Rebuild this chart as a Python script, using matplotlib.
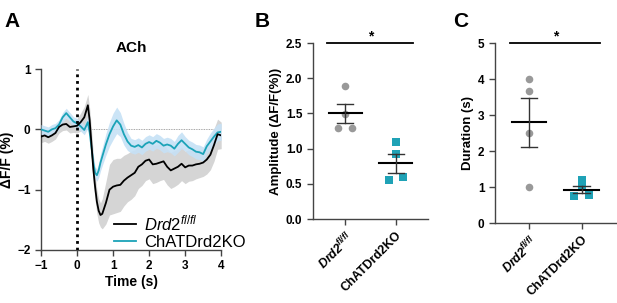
import numpy as np
import matplotlib.pyplot as plt

plt.rcParams['font.family'] = ['Liberation Sans', 'DejaVu Sans']
plt.rcParams['mathtext.fontset'] = 'custom'
plt.rcParams['mathtext.it'] = 'Liberation Sans:italic'
plt.rcParams['mathtext.bfit'] = 'Liberation Sans:italic:bold'
plt.rcParams['mathtext.rm'] = 'Liberation Sans'

# Panel A: photometry traces (time in s, dF/F in %)
time = [-1.0, -0.9, -0.8, -0.7, -0.6, -0.5, -0.4, -0.3, -0.2, -0.1, 0.0, 0.1, 0.2,
        0.3, 0.35, 0.4, 0.45, 0.5, 0.55, 0.6, 0.65, 0.7, 0.8, 0.9, 1.0, 1.1, 1.2,
        1.3, 1.4, 1.5, 1.6, 1.7, 1.8, 1.9, 2.0, 2.1, 2.2, 2.3, 2.4, 2.5, 2.6, 2.7,
        2.8, 2.9, 3.0, 3.1, 3.2, 3.3, 3.4, 3.5, 3.6, 3.7, 3.8, 3.9, 4.0]
ctrl_mean = [-0.12, -0.10, -0.13, -0.10, -0.06, 0.04, 0.08, 0.09, 0.04, 0.05, 0.06,
             0.12, 0.20, 0.40, 0.15, -0.25, -0.65, -0.95, -1.20, -1.35, -1.42, -1.40,
             -1.22, -1.00, -0.95, -0.93, -0.92, -0.85, -0.80, -0.76, -0.72, -0.62,
             -0.58, -0.52, -0.50, -0.58, -0.57, -0.55, -0.53, -0.62, -0.68, -0.65,
             -0.62, -0.57, -0.63, -0.60, -0.60, -0.58, -0.57, -0.55, -0.50, -0.42,
             -0.26, -0.08, -0.10]
ctrl_sem = [0.10, 0.10, 0.10, 0.10, 0.10, 0.10, 0.10, 0.10, 0.10, 0.10, 0.12,
            0.15, 0.18, 0.18, 0.20, 0.25, 0.25, 0.22, 0.20, 0.20, 0.20, 0.25,
            0.35, 0.42, 0.45, 0.45, 0.44, 0.42, 0.40, 0.40, 0.38, 0.36,
            0.35, 0.33, 0.32, 0.32, 0.31, 0.30, 0.30, 0.30, 0.30, 0.30,
            0.29, 0.28, 0.27, 0.26, 0.25, 0.24, 0.23, 0.23, 0.24, 0.25,
            0.27, 0.25, 0.22]
ko_mean = [0.00, -0.02, -0.04, 0.00, 0.02, 0.08, 0.20, 0.27, 0.20, 0.13, 0.10,
           0.05, -0.01, 0.12, -0.05, -0.30, -0.55, -0.72, -0.76, -0.68, -0.55, -0.45,
           -0.25, -0.08, 0.05, 0.15, 0.08, -0.08, -0.20, -0.27, -0.29, -0.26,
           -0.30, -0.24, -0.21, -0.24, -0.19, -0.22, -0.27, -0.25, -0.27, -0.32,
           -0.24, -0.18, -0.24, -0.30, -0.33, -0.37, -0.38, -0.41, -0.28, -0.20,
           -0.12, -0.05, -0.04]
ko_sem = [0.08, 0.08, 0.08, 0.08, 0.08, 0.08, 0.08, 0.08, 0.08, 0.08, 0.08,
          0.08, 0.08, 0.10, 0.10, 0.10, 0.10, 0.10, 0.10, 0.12, 0.14, 0.15,
          0.18, 0.20, 0.22, 0.22, 0.20, 0.18, 0.15, 0.12, 0.12, 0.12,
          0.12, 0.12, 0.12, 0.12, 0.12, 0.12, 0.12, 0.12, 0.12, 0.12,
          0.14, 0.14, 0.12, 0.12, 0.12, 0.12, 0.12, 0.12, 0.12, 0.14,
          0.14, 0.14, 0.14]

# Panel B/C: per-animal values
groups = ['$\\mathbfit{Drd2}^{\\mathbfit{fl/fl}}$', 'ChATDrd2KO']
legend_labels = ['$\\mathit{Drd2}^{\\mathit{fl/fl}}$', 'ChATDrd2KO']
amp_ctrl = [1.89, 1.49, 1.29, 1.29]
amp_ctrl_dx = [0.0, 0.0, -0.14, 0.14]
amp_ko = [1.09, 0.92, 0.55, 0.60]
amp_ko_dx = [0.0, 0.0, -0.14, 0.14]
amp_mean = [1.50, 0.79]
amp_sem = [0.14, 0.13]

dur_ctrl = [3.99, 3.68, 2.49, 1.0]
dur_ctrl_dx = [0.0, 0.0, 0.0, 0.0]
dur_ko = [1.19, 0.99, 0.75, 0.78]
dur_ko_dx = [0.0, 0.0, -0.14, 0.14]
dur_mean = [2.80, 0.93]
dur_sem = [0.68, 0.10]

black = '#000000'
grey_fill = '#d5d5d5'
cyan = '#1ba3b8'
blue_fill = '#c6e1f6'
grey_dot = '#999999'
teal = '#1fa2b6'
spine_c = '#444444'

fig = plt.figure(figsize=(6.17, 3.03), dpi=100)


def style_axes(ax):
    for s in ['top', 'right']:
        ax.spines[s].set_visible(False)
    for s in ['left', 'bottom']:
        ax.spines[s].set_color(spine_c)
        ax.spines[s].set_linewidth(1.0)
    ax.tick_params(colors=spine_c, labelcolor='black', width=1.0, length=4,
                   labelsize=8.5)
    for lab in ax.get_xticklabels() + ax.get_yticklabels():
        lab.set_fontweight('bold')


# ---------- A ----------
axA = fig.add_axes([0.0665, 0.175, 0.292, 0.597])
t = np.array(time)
cm, cs = np.array(ctrl_mean), np.array(ctrl_sem)
km, ks = np.array(ko_mean), np.array(ko_sem)
axA.plot([0, 4], [0, 0], color='#888888', lw=0.6, ls=(0, (1, 1)), zorder=1)
axA.fill_between(t, cm - cs, cm + cs, color=grey_fill, lw=0, zorder=2)
axA.fill_between(t, km - ks, km + ks, color=blue_fill, lw=0, alpha=0.9, zorder=3)
ko_line, = axA.plot(t, km, color=cyan, lw=1.3, zorder=4)
ctrl_line, = axA.plot(t, cm, color=black, lw=1.3, zorder=5)
axA.plot([0, 0], [-2, 1], color='black', lw=2, ls=(0, (1, 1.4)), zorder=6)
axA.set_xlim(-1, 4)
axA.set_ylim(-2, 1)
axA.set_xticks([-1, 0, 1, 2, 3, 4])
axA.set_yticks([-2, -1, 0, 1])
style_axes(axA)
axA.set_xlabel('Time (s)', fontsize=10, fontweight='bold', labelpad=2)
axA.set_ylabel('ΔF/F (%)', fontsize=10, fontweight='bold', labelpad=2)
axA.set_title('ACh', fontsize=11, fontweight='bold', pad=12)
axA.legend([ctrl_line, ko_line], legend_labels, loc='lower left',
           bbox_to_anchor=(0.36, -0.045), frameon=False, fontsize=12,
           handlelength=1.3, handletextpad=0.5, labelspacing=0.1, borderpad=0)
fig.text(0.008, 0.96, 'A', fontsize=15, fontweight='bold', va='top')


def scatter_panel(rect, ctrl, ctrl_dx, ko, ko_dx, mean, sem, ylim, yticks, fmt,
                  ylabel, letter, letter_x):
    ax = fig.add_axes(rect)
    ax.scatter(np.array(ctrl_dx), ctrl, s=30, color=grey_dot, marker='o', lw=0, zorder=3)
    ax.scatter(1 + np.array(ko_dx), ko, s=30, color=teal, marker='s', lw=0, zorder=3)
    for i in range(2):
        ax.plot([i - 0.33, i + 0.33], [mean[i], mean[i]], color='black', lw=1.5, zorder=4)
        ax.plot([i, i], [mean[i] - sem[i], mean[i] + sem[i]], color='#333333', lw=1, zorder=4)
        for v in (mean[i] - sem[i], mean[i] + sem[i]):
            ax.plot([i - 0.16, i + 0.16], [v, v], color='#333333', lw=1, zorder=4)
    ax.plot([-0.37, 1.35], [ylim[1], ylim[1]], color='black', lw=1.3, clip_on=False)
    ax.text(0.5, ylim[1], '*', ha='center', va='bottom', fontsize=10, fontweight='bold')
    ax.set_xlim(-0.65, 1.65)
    ax.set_ylim(*ylim)
    ax.set_yticks(yticks)
    ax.set_yticklabels([fmt.format(v) for v in yticks])
    ax.set_xticks([0, 1])
    ax.set_xticklabels(groups, rotation=45, ha='right', rotation_mode='anchor')
    style_axes(ax)
    ax.tick_params(axis='x', labelsize=9)
    ax.set_ylabel(ylabel, fontsize=9.5, fontweight='bold', labelpad=3)
    fig.text(letter_x, 0.96, letter, fontsize=15, fontweight='bold', va='top')
    return ax


scatter_panel([0.507, 0.277, 0.187, 0.581], amp_ctrl, amp_ctrl_dx, amp_ko, amp_ko_dx,
              amp_mean, amp_sem, (0, 2.5), [0, 0.5, 1.0, 1.5, 2.0, 2.5], '{:.1f}',
              'Amplitude (ΔF/F(%))', 'B', 0.413)
scatter_panel([0.802, 0.264, 0.196, 0.594], dur_ctrl, dur_ctrl_dx, dur_ko, dur_ko_dx,
              dur_mean, dur_sem, (0, 5), [0, 1, 2, 3, 4, 5], '{:d}',
              'Duration (s)', 'C', 0.735)

fig.savefig('out.png', dpi=100)
